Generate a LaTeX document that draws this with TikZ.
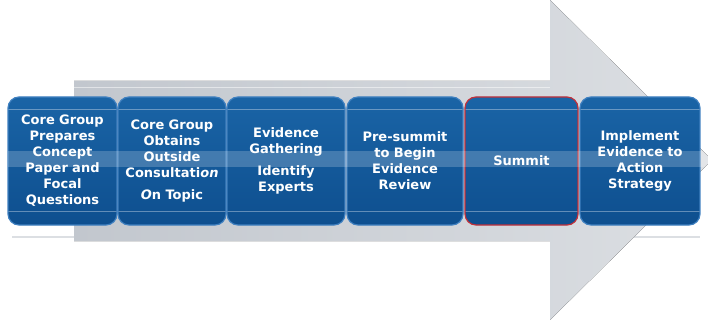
\documentclass[tikz,border=0pt]{standalone}
\usepackage{fontspec}
\setmainfont{DejaVu Sans}
\usetikzlibrary{positioning,calc}
\definecolor{sk-blue}{HTML}{1A64A6}
\definecolor{sk-deep}{HTML}{0E4F8F}
\definecolor{sk-rim}{HTML}{3F80C0}
\definecolor{sk-grey}{HTML}{C2C7CE}
\definecolor{sk-pale}{HTML}{DCDFE3}
\definecolor{sk-red}{HTML}{C2303A}

\tikzset{
  stage/.style={rounded corners=11pt, minimum height=128pt,
    inner sep=0pt, outer sep=0pt, draw=sk-rim, line width=1.2pt,
    top color=sk-blue, bottom color=sk-deep,
    text=white, align=center, text width=100pt,
    font=\bfseries\fontsize{13}{16}\selectfont,
    path picture={
      \draw[white, opacity=.35, line width=.6pt]
        ([yshift=-12pt]path picture bounding box.north west) -- ([yshift=-12pt]path picture bounding box.north east)
        ([yshift=14pt]path picture bounding box.south west) -- ([yshift=14pt]path picture bounding box.south east);
    }},
  gloss/.style={fill=white, opacity=.2},
}

\begin{document}
\begin{tikzpicture}[x=1pt, y=-1pt]
    \clip (0,0) rectangle (708,320);
    % faint reflection line
    \draw[sk-pale, line width=1.2pt] (12,237) -- (700,237);
    % big arrow
    \fill[left color=sk-grey, right color=sk-pale]
        (74,81) -- (550,81) -- (550,0) -- (712,160) -- (550,320) -- (550,241) -- (74,241) -- cycle;
    \draw[white, opacity=.5, line width=.8pt] (74,87) -- (550,87);
    % stages
    \node[stage, minimum width=109pt] (s1) at (62.5,161) {Core Group\\Prepares\\Concept\\Paper and\\Focal\\Questions};
    \node[stage, minimum width=108pt, right=1pt of s1] (s2) {Core Group\\Obtains\\Outside\\Consultati\textit{on}\\[6pt]\textit{O}n Topic};
    \node[stage, minimum width=118pt, right=1pt of s2] (s3) {Evidence\\Gathering\\[6pt]Identify\\Experts};
    \node[stage, minimum width=116pt, right=2pt of s3] (s4) {Pre-summit\\to Begin\\Evidence\\Review};
    \node[stage, minimum width=113pt, right=2pt of s4, draw=sk-red] (s5) {Summit};
    \node[stage, minimum width=120pt, right=2pt of s5] (s6) {Implement\\Evidence to\\Action\\Strategy};
    % glossy band
    \begin{scope}
        \clip (74,81) -- (550,81) -- (550,0) -- (712,160) -- (550,320) -- (550,241) -- (74,241) -- cycle;
        \fill[gloss] (74,151) rectangle (712,167);
    \end{scope}
    \fill[gloss] (s1.west |- 0,151) rectangle (74,167);
\end{tikzpicture}
\end{document}
